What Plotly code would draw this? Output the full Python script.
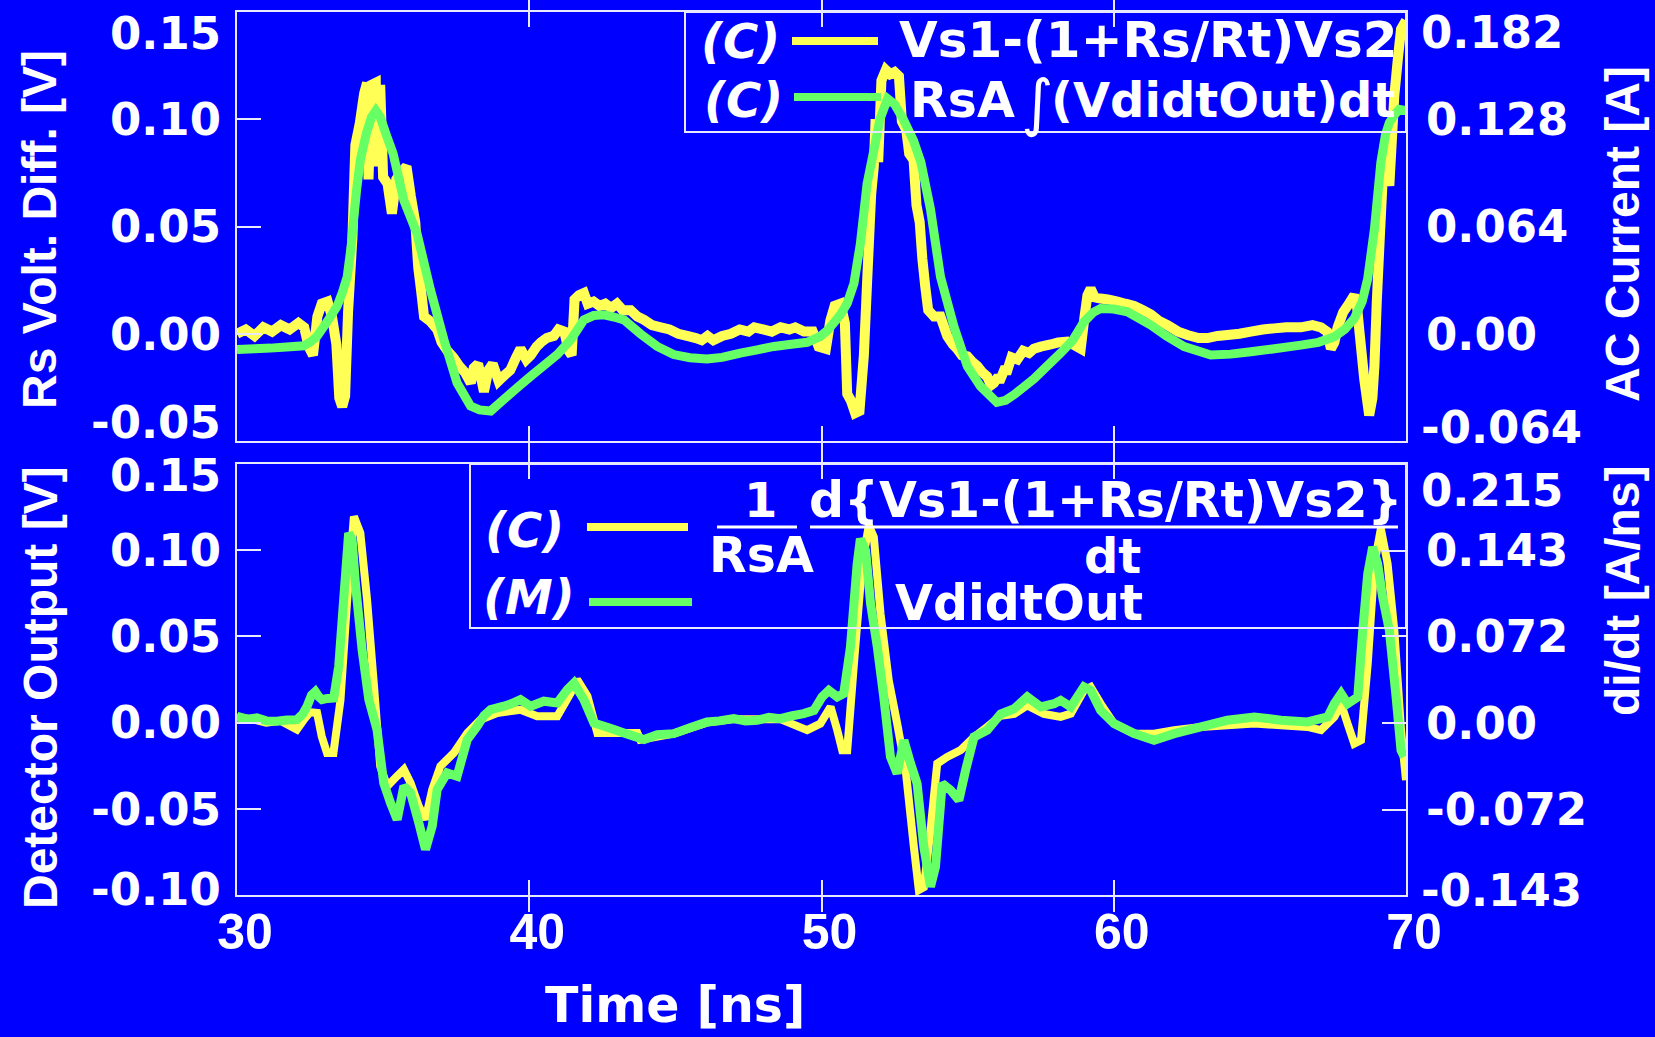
import plotly.graph_objects as go

# ---------------------------------------------------------------------------
# Measured / computed waveforms, (time [ns], value [V])
# ---------------------------------------------------------------------------
# Upper panel: Vs1-(1+Rs/Rt)Vs2 (noisy) and RsA * integral of VdidtOut
upper_vdiff = [
    (30.0, 0.000), (30.3, 0.002), (30.6, -0.001), (30.9, 0.003), (31.2, 0.001),
    (31.5, 0.004), (31.8, 0.002), (32.1, 0.005), (32.3, 0.003), (32.45, -0.006),
    (32.6, -0.010), (32.75, 0.008), (32.9, 0.014), (33.1, 0.015), (33.25, 0.008),
    (33.4, -0.005), (33.5, -0.030), (33.6, -0.034), (33.7, -0.029), (33.8, 0.010),
    (33.95, 0.045), (34.05, 0.088), (34.2, 0.098), (34.35, 0.112), (34.45, 0.117),
    (34.5, 0.072), (34.6, 0.116), (34.75, 0.117), (34.8, 0.078), (34.9, 0.116),
    (35.0, 0.073), (35.15, 0.070), (35.3, 0.056), (35.45, 0.072), (35.6, 0.075),
    (35.8, 0.078), (35.95, 0.064), (36.1, 0.052), (36.2, 0.031), (36.3, 0.020),
    (36.4, 0.008), (36.6, 0.006), (36.85, 0.002), (37.0, -0.004), (37.2, -0.008),
    (37.4, -0.011), (37.6, -0.015), (37.8, -0.018), (38.0, -0.023), (38.1, -0.016),
    (38.25, -0.014), (38.45, -0.027), (38.6, -0.017), (38.75, -0.014), (38.95, -0.022),
    (39.1, -0.020), (39.35, -0.017), (39.55, -0.011), (39.7, -0.007), (39.9, -0.012),
    (40.05, -0.010), (40.25, -0.006), (40.4, -0.004), (40.6, -0.002), (40.84, -0.001),
    (41.0, 0.002), (41.2, 0.001), (41.35, -0.008), (41.45, -0.010), (41.55, 0.016),
    (41.7, 0.018), (41.87, 0.019), (42.0, 0.014), (42.2, 0.015), (42.4, 0.013),
    (42.6, 0.014), (42.8, 0.012), (43.0, 0.014), (43.2, 0.011), (43.47, 0.011),
    (43.7, 0.008), (43.93, 0.0065), (44.2, 0.004), (44.5, 0.003), (44.8, 0.002),
    (45.1, 0.000), (45.4, -0.001), (45.7, -0.002), (45.9, -0.003), (46.1, -0.001),
    (46.3, -0.003), (46.6, -0.001), (46.9, 0.000), (47.2, 0.002), (47.5, 0.001),
    (47.7, 0.003), (48.0, 0.002), (48.3, 0.001), (48.6, 0.003), (48.9, 0.002),
    (49.1, 0.003), (49.4, 0.001), (49.7, 0.001), (49.9, -0.006), (50.15, -0.007),
    (50.3, 0.006), (50.45, 0.013), (50.65, 0.014), (50.8, 0.005), (50.88, -0.028),
    (51.0, -0.031), (51.15, -0.037), (51.3, -0.036), (51.45, -0.010), (51.56, 0.024),
    (51.7, 0.065), (51.79, 0.078), (51.85, 0.100), (51.94, 0.080), (52.05, 0.118),
    (52.2, 0.123), (52.35, 0.121), (52.5, 0.122), (52.65, 0.120), (52.75, 0.099),
    (52.9, 0.095), (53.0, 0.084), (53.15, 0.081), (53.25, 0.060), (53.36, 0.052),
    (53.45, 0.035), (53.55, 0.022), (53.65, 0.011), (53.85, 0.008), (54.07, 0.008),
    (54.3, -0.001), (54.5, -0.005), (54.64, -0.007), (54.8, -0.010), (54.99, -0.0105),
    (55.15, -0.013), (55.33, -0.015), (55.5, -0.018), (55.67, -0.020), (55.8, -0.024),
    (55.9, -0.023), (56.0, -0.021), (56.13, -0.021), (56.25, -0.017), (56.36, -0.017),
    (56.5, -0.011), (56.7, -0.012), (56.9, -0.008), (57.1, -0.009), (57.27, -0.007),
    (57.5, -0.006), (57.84, -0.005), (58.1, -0.004), (58.41, -0.0037), (58.6, -0.005),
    (58.87, -0.007), (59.0, 0.008), (59.1, 0.018), (59.21, 0.021), (59.35, 0.017),
    (59.55, 0.0164), (59.8, 0.016), (60.13, 0.015), (60.4, 0.014), (60.7, 0.013),
    (61.0, 0.011), (61.27, 0.009), (61.55, 0.006), (61.84, 0.004), (62.2, 0.001),
    (62.52, -0.0006), (62.9, -0.002), (63.21, -0.002), (63.55, -0.001), (63.89, -0.0006),
    (64.3, 0.000), (64.69, 0.001), (65.1, 0.002), (65.49, 0.0025), (65.9, 0.003),
    (66.4, 0.003), (66.8, 0.004), (67.09, 0.003), (67.3, 0.001), (67.43, -0.007),
    (67.55, -0.004), (67.66, 0.003), (67.85, 0.010), (68.0, 0.013), (68.23, 0.018),
    (68.33, 0.012), (68.4, 0.002), (68.57, -0.021), (68.74, -0.038), (68.85, -0.030),
    (68.92, -0.015), (69.0, 0.015), (69.09, 0.041), (69.26, 0.088), (69.35, 0.076),
    (69.43, 0.069), (69.6, 0.111), (69.72, 0.128), (69.83, 0.142), (70.0, 0.146),
]

upper_integral = [
    (30.0, -0.0074), (30.6, -0.0070), (31.14, -0.0067), (31.7, -0.0062), (32.28, -0.0056),
    (32.5, -0.004), (32.74, -0.0012), (33.0, 0.004), (33.2, 0.008), (33.42, 0.0127),
    (33.6, 0.019), (33.77, 0.0266), (33.9, 0.040), (34.0, 0.0545), (34.1, 0.068),
    (34.22, 0.081), (34.42, 0.093), (34.6, 0.101), (34.75, 0.104), (34.9, 0.101),
    (35.1, 0.093), (35.34, 0.084), (35.71, 0.0622), (36.16, 0.0467), (36.62, 0.0204),
    (37.08, -0.0028), (37.53, -0.0229), (37.99, -0.0337), (38.3, -0.0355), (38.68, -0.036),
    (39.13, -0.0306), (39.6, -0.025), (40.05, -0.0198), (40.5, -0.0148), (40.96, -0.0097),
    (41.42, -0.0028), (41.87, 0.0065), (42.2, 0.0085), (42.56, 0.0088), (42.9, 0.0078),
    (43.24, 0.0065), (43.8, 0.000), (44.38, -0.0059), (44.94, -0.0097), (45.5, -0.0112),
    (46.08, -0.0118), (46.6, -0.011), (47.22, -0.009), (47.8, -0.0075), (48.37, -0.0059),
    (48.9, -0.005), (49.51, -0.004), (49.96, -0.0012), (50.2, 0.0015), (50.42, 0.005),
    (50.65, 0.009), (50.88, 0.0142), (51.11, 0.0235), (51.33, 0.042), (51.56, 0.070),
    (51.79, 0.0854), (52.0, 0.100), (52.26, 0.1096), (52.5, 0.107), (52.8, 0.100),
    (53.15, 0.090), (53.4, 0.080), (53.73, 0.058), (54.07, 0.0266), (54.53, 0.0034),
    (54.99, -0.0152), (55.44, -0.0245), (56.0, -0.032), (56.3, -0.031), (56.6, -0.0283),
    (57.27, -0.021), (58.18, -0.009), (58.6, -0.003), (58.98, 0.0056), (59.3, 0.010),
    (59.55, 0.0118), (60.0, 0.0115), (60.47, 0.0102), (61.27, 0.004), (61.8, -0.001),
    (62.41, -0.006), (63.32, -0.0099), (64.0, -0.0095), (64.69, -0.0084), (65.5, -0.007),
    (66.4, -0.0053), (67.0, -0.004), (67.55, -0.0014), (67.9, 0.002), (68.23, 0.0071),
    (68.5, 0.015), (68.69, 0.0257), (68.92, 0.0489), (69.14, 0.0799), (69.3, 0.093),
    (69.43, 0.0984), (69.6, 0.102), (69.77, 0.1046), (70.0, 0.104),
]

# Lower panel: (1/RsA) d{Vs1-(1+Rs/Rt)Vs2}/dt and the detector output VdidtOut
lower_derivative = [
    (30.0, 0.003), (30.5, 0.002), (31.0, 0.000), (31.5, 0.001), (32.05, -0.004),
    (32.3, 0.002), (32.5, 0.006), (32.74, 0.0056), (32.9, -0.008), (33.08, -0.0176),
    (33.3, -0.0176), (33.54, 0.013), (33.77, 0.0713), (34.0, 0.1195), (34.22, 0.110),
    (34.45, 0.0713), (34.68, 0.0230), (34.9, -0.0253), (35.14, -0.0369), (35.48, -0.031),
    (35.71, -0.0272), (35.94, -0.035), (36.22, -0.0485), (36.45, -0.0562), (36.68, -0.0388),
    (36.96, -0.0253), (37.42, -0.0176), (37.88, -0.006), (38.33, 0.0017), (38.9, 0.0056),
    (39.7, 0.0075), (40.27, 0.0037), (40.96, 0.0037), (41.42, 0.0172), (41.64, 0.0249),
    (41.99, 0.0153), (42.33, -0.006), (42.56, -0.006), (43.7, -0.006), (43.8, -0.010),
    (44.94, -0.0064), (46.08, 0.000), (47.0, 0.002), (48.59, 0.002), (49.51, -0.0044),
    (49.96, -0.0006), (50.31, 0.0091), (50.54, -0.0044), (50.71, -0.016), (50.88, -0.016),
    (51.11, 0.0342), (51.39, 0.092), (51.62, 0.1143), (51.79, 0.1076), (52.02, 0.0632),
    (52.3, 0.0245), (52.59, -0.0006), (52.88, -0.0276), (53.16, -0.072), (53.33, -0.0971),
    (53.5, -0.0955), (53.73, -0.0624), (53.96, -0.0238), (54.3, -0.0199), (54.76, -0.016),
    (55.22, -0.0083), (55.67, -0.0025), (56.13, 0.004), (56.59, 0.005), (57.04, 0.010),
    (57.61, 0.005), (58.18, 0.0033), (58.53, 0.0052), (58.98, 0.0188), (59.21, 0.0207),
    (59.55, 0.011), (60.01, -0.0006), (60.7, -0.0064), (61.38, -0.0064), (62.07, -0.0044),
    (62.98, -0.0025), (63.89, -0.0015), (64.81, -0.0006), (65.72, -0.0015), (66.63, -0.0025),
    (67.09, -0.0044), (67.55, 0.0033), (67.78, 0.011), (68.0, -0.0006), (68.23, -0.0122),
    (68.46, -0.0102), (68.69, 0.0342), (68.92, 0.0921), (69.14, 0.1124), (69.37, 0.0921),
    (69.6, 0.0535), (69.83, -0.0044), (70.0, -0.0334),
]

lower_detector = [
    (30.0, 0.0037), (30.35, 0.002), (30.68, 0.0027), (31.0, 0.001), (31.37, 0.0008),
    (31.7, 0.0015), (32.05, 0.0017), (32.25, 0.005), (32.4, 0.0095), (32.55, 0.016),
    (32.68, 0.018), (32.8, 0.015), (32.91, 0.0133), (33.1, 0.014), (33.31, 0.0143),
    (33.48, 0.0326), (33.65, 0.0713), (33.82, 0.110), (33.94, 0.106), (34.05, 0.081),
    (34.28, 0.0423), (34.51, 0.0133), (34.79, -0.004), (35.02, -0.035), (35.25, -0.0465),
    (35.48, -0.0562), (35.71, -0.0369), (35.94, -0.0407), (36.22, -0.0581), (36.45, -0.0736),
    (36.68, -0.060), (36.85, -0.0388), (37.19, -0.0292), (37.53, -0.0311), (37.88, -0.0098),
    (38.22, -0.0021), (38.45, 0.004), (38.68, 0.0075), (39.13, 0.0095), (39.4, 0.011),
    (39.7, 0.0133), (40.05, 0.0095), (40.5, 0.0124), (40.96, 0.0114), (41.3, 0.0191),
    (41.53, 0.023), (41.87, 0.0133), (42.21, -0.0002), (42.56, -0.0021), (42.9, -0.004),
    (43.24, -0.006), (43.6, -0.008), (43.93, -0.0098), (44.38, -0.007), (44.94, -0.0064),
    (45.5, -0.003), (46.08, 0.0004), (46.5, 0.001), (47.0, 0.0023), (47.4, 0.001),
    (47.8, 0.0014), (48.2, 0.003), (48.59, 0.0023), (49.0, 0.004), (49.39, 0.0052),
    (49.74, 0.0071), (50.02, 0.0149), (50.25, 0.0187), (50.54, 0.0149), (50.76, 0.0168),
    (50.99, 0.0438), (51.22, 0.092), (51.33, 0.1066), (51.51, 0.0998), (51.68, 0.0689),
    (51.91, 0.0438), (52.13, 0.0149), (52.36, -0.0199), (52.59, -0.0295), (52.82, -0.0102),
    (53.05, -0.0238), (53.27, -0.0353), (53.5, -0.072), (53.73, -0.0952), (53.9, -0.0836),
    (54.13, -0.0353), (54.42, -0.0392), (54.7, -0.045), (54.93, -0.0276), (55.22, -0.0083),
    (55.67, -0.0044), (56.13, 0.005), (56.59, 0.008), (57.04, 0.0149), (57.5, 0.0091),
    (57.96, 0.011), (58.18, 0.0129), (58.53, 0.009), (58.98, 0.0207), (59.21, 0.0187),
    (59.55, 0.0071), (60.01, -0.0006), (60.7, -0.0064), (61.38, -0.0102), (62.07, -0.0064),
    (62.98, -0.0025), (63.89, 0.0014), (64.81, 0.0033), (65.72, 0.0014), (66.63, 0.0004),
    (67.32, 0.0033), (67.55, 0.011), (67.78, 0.0168), (68.0, 0.011), (68.35, 0.0149),
    (68.52, 0.0535), (68.69, 0.0863), (68.86, 0.1018), (69.03, 0.0921), (69.2, 0.0728),
    (69.43, 0.0535), (69.66, 0.0149), (69.83, -0.016), (69.94, -0.0199),
]

# Axis ticks
time_ticks = [30, 40, 50, 60, 70]
upper_left_ticks = [-0.05, 0.00, 0.05, 0.10, 0.15]
upper_left_text = ["-0.05", "0.00", "0.05", "0.10", "0.15"]
upper_right_ticks = [-0.064, 0.0, 0.064, 0.128, 0.192]
upper_right_text = ["-0.064", "0.00", "0.064", "0.128", "0.182"]
lower_left_ticks = [-0.10, -0.05, 0.00, 0.05, 0.10, 0.15]
lower_left_text = ["-0.10", "-0.05", "0.00", "0.05", "0.10", "0.15"]
lower_right_ticks = [-0.143, -0.072, 0.0, 0.072, 0.143, 0.215]
lower_right_text = ["-0.143", "-0.072", "0.00", "0.072", "0.143", "0.215"]

# ---------------------------------------------------------------------------
BG = "#0000FF"
FRAME = "#E8E8FF"
YELLOW = "#FFFF55"
GREEN = "#66FF66"
WHITE = "#FFFFFF"

W, H = 1655, 1037
L, R, T, B = 237, 1406, 12, 895          # plotting area in pixels
UPPER_BOTTOM, LOWER_TOP = 441, 464


def px(X):
    return (X - L) / (R - L)


def py(Y):
    return (B - Y) / (B - T)


def unzip(pairs):
    return [p[0] for p in pairs], [p[1] for p in pairs]


fig = go.Figure()

for pairs, color, width, xa, ya in [
    (upper_vdiff, YELLOW, 10, "x2", "y2"),
    (upper_integral, GREEN, 9, "x2", "y2"),
    (lower_derivative, YELLOW, 8, "x", "y"),
    (lower_detector, GREEN, 9, "x", "y"),
]:
    t, v = unzip(pairs)
    fig.add_trace(go.Scatter(x=t, y=v, xaxis=xa, yaxis=ya, mode="lines",
                             line=dict(color=color, width=width, simplify=False),
                             hoverinfo="skip", showlegend=False))

# the right-hand current axes carry no trace of their own
for ya in ("y3", "y4"):
    fig.add_trace(go.Scatter(x=[None], y=[None], xaxis="x", yaxis=ya,
                             mode="lines", showlegend=False, hoverinfo="skip"))

tick_font = dict(family="DejaVu Sans", size=45, color=WHITE, weight="bold")
xtick_font = dict(family="Liberation Sans", size=50, color=WHITE, weight="bold")

common_x = dict(range=[30, 70], tickvals=time_ticks, ticks="inside", ticklen=15,
                tickwidth=2, tickcolor=FRAME, showline=True, linecolor=FRAME,
                linewidth=2, mirror="allticks", showgrid=False, zeroline=False)
common_y = dict(ticks="inside", ticklen=24, tickwidth=2, tickcolor=FRAME,
                showline=True, linecolor=FRAME, linewidth=2, showgrid=False,
                zeroline=False, tickfont=tick_font)


def inner(labels):
    # end labels are set inside the frame separately
    return [""] + labels[1:-1] + [""]


top_dom = [py(UPPER_BOTTOM), 1.0]
bot_dom = [0.0, py(LOWER_TOP)]

fig.update_layout(
    width=W, height=H,
    margin=dict(l=L, r=W - R, t=T, b=H - B, autoexpand=False),
    paper_bgcolor=BG, plot_bgcolor=BG, showlegend=False,
    xaxis=dict(**common_x, anchor="y", tickfont=xtick_font,
               ticktext=[str(v) for v in time_ticks],
               ticklabelstandoff=-8, ticklabelshift=8),
    xaxis2=dict(**common_x, anchor="y2", matches="x", showticklabels=False),
    yaxis=dict(**common_y, domain=bot_dom, anchor="x", range=[-0.10, 0.15],
               tickvals=lower_left_ticks, ticktext=inner(lower_left_text),
               ticklabelstandoff=5),
    yaxis2=dict(**common_y, domain=top_dom, anchor="x2", range=[-0.05, 0.15],
                tickvals=upper_left_ticks, ticktext=inner(upper_left_text),
                ticklabelstandoff=5),
    yaxis3=dict(**common_y, overlaying="y", side="right", anchor="x",
                range=[-0.143, 0.215], tickvals=lower_right_ticks,
                ticktext=inner(lower_right_text), ticklabelstandoff=9),
    yaxis4=dict(**common_y, overlaying="y2", side="right", anchor="x2",
                range=[-0.064, 0.192], tickvals=upper_right_ticks,
                ticktext=inner(upper_right_text), ticklabelstandoff=9),
)

ann = []
shapes = []


def text(X, Y, s, size=48, family="DejaVu Sans", xanchor="center",
         italic=False, angle=0, weight="bold"):
    ann.append(dict(x=px(X), y=py(Y), xref="paper", yref="paper", text=s,
                    showarrow=False, xanchor=xanchor, yanchor="middle",
                    textangle=angle,
                    font=dict(family=family, size=size, color=WHITE,
                              weight=weight,
                              style="italic" if italic else "normal")))


def edge_label(yref, value, label, side, shift):
    X = 223 if side == "left" else 1419
    ann.append(dict(x=px(X), y=value, xref="paper", yref=yref, text=label,
                    showarrow=False, yshift=shift,
                    xanchor="right" if side == "left" else "left",
                    yanchor="middle", font=tick_font))


# end-of-scale tick labels, pulled inside the frame
edge_label("y2", upper_left_ticks[-1], upper_left_text[-1], "left", -21)
edge_label("y2", upper_left_ticks[0], upper_left_text[0], "left", 19)
edge_label("y4", upper_right_ticks[-1], upper_right_text[-1], "right", -20)
edge_label("y4", upper_right_ticks[0], upper_right_text[0], "right", 14)
edge_label("y", lower_left_ticks[-1], lower_left_text[-1], "left", -11)
edge_label("y", lower_left_ticks[0], lower_left_text[0], "left", 6)
edge_label("y3", lower_right_ticks[-1], lower_right_text[-1], "right", -26)
edge_label("y3", lower_right_ticks[0], lower_right_text[0], "right", 5)

# axis titles
title_family = "Liberation Sans"
text(40, 230, "Rs Volt. Diff. [V]", size=48, family=title_family, angle=-90)
text(1622, 234, "AC Current [A]", size=48, family=title_family, angle=-90)
text(40, 688, "Detector Output [V]", size=48, family=title_family, angle=-90)
text(1622, 591, "di/dt [A/ns]", size=48, family=title_family, angle=-90)
text(675, 1005, "Time [ns]", size=49)

# upper legend
shapes.append(dict(type="rect", xref="paper", yref="paper",
                   x0=px(685), x1=px(1406), y0=py(132), y1=py(12),
                   line=dict(color=FRAME, width=2), layer="above"))
text(740, 41, "(C)", size=48, italic=True)
shapes.append(dict(type="line", xref="paper", yref="paper",
                   x0=px(792), x1=px(878), y0=py(41), y1=py(41),
                   line=dict(color=YELLOW, width=8), layer="above"))
text(897, 40, "Vs1-(1+Rs/Rt)Vs2", size=50, xanchor="left")
text(743, 100, "(C)", size=48, italic=True)
shapes.append(dict(type="line", xref="paper", yref="paper",
                   x0=px(794), x1=px(881), y0=py(97), y1=py(97),
                   line=dict(color=GREEN, width=8), layer="above"))
text(908, 100, "RsA", size=49, xanchor="left")
text(1037, 102, "∫", size=62, weight="normal")
text(1049, 100, "(VdidtOut)dt", size=48, xanchor="left")

# lower legend
shapes.append(dict(type="rect", xref="paper", yref="paper",
                   x0=px(470), x1=px(1406), y0=py(628), y1=py(464),
                   line=dict(color=FRAME, width=2), layer="above"))
text(524, 530, "(C)", size=48, italic=True)
shapes.append(dict(type="line", xref="paper", yref="paper",
                   x0=px(587), x1=px(688), y0=py(527), y1=py(527),
                   line=dict(color=YELLOW, width=8), layer="above"))
text(760, 500, "1", size=48)
shapes.append(dict(type="line", xref="paper", yref="paper",
                   x0=px(717), x1=px(797), y0=py(527), y1=py(527),
                   line=dict(color=WHITE, width=3), layer="above"))
text(761, 555, "RsA", size=49)
text(807, 500, "d{Vs1-(1+Rs/Rt)Vs2}", size=49, xanchor="left")
shapes.append(dict(type="line", xref="paper", yref="paper",
                   x0=px(810), x1=px(1398), y0=py(527), y1=py(527),
                   line=dict(color=WHITE, width=3), layer="above"))
text(1112, 556, "dt", size=48)
text(529, 597, "(M)", size=48, italic=True)
shapes.append(dict(type="line", xref="paper", yref="paper",
                   x0=px(589), x1=px(692), y0=py(602), y1=py(602),
                   line=dict(color=GREEN, width=8), layer="above"))
text(893, 603, "VdidtOut", size=49, xanchor="left")

fig.update_layout(annotations=ann, shapes=shapes)

fig.write_html("out.html")
